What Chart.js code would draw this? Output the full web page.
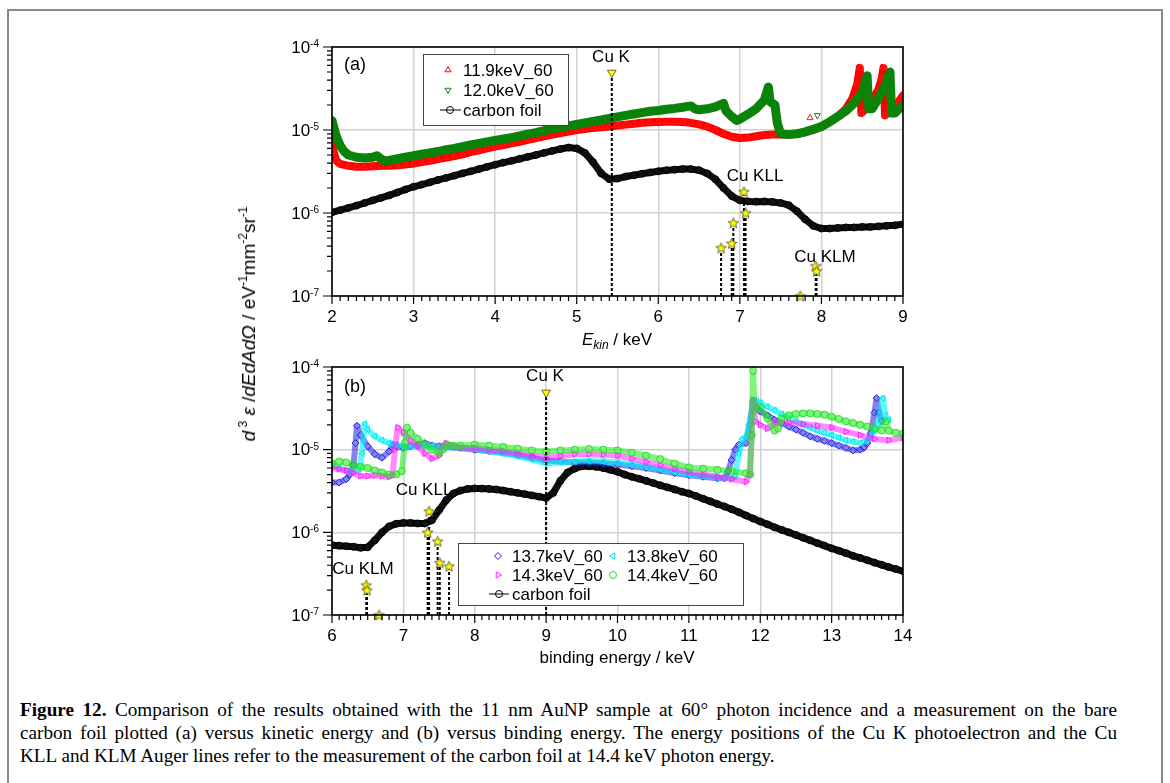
<!DOCTYPE html>
<html>
<head>
<meta charset="utf-8">
<title>AuNP and carbon foil spectra</title>
<script src="https://cdn.jsdelivr.net/npm/chart.js@4.4.1/dist/chart.umd.min.js"></script>
<style>
  html, body { margin: 0; padding: 0; background: #fff; }
  #page { position: relative; width: 1170px; height: 783px; overflow: hidden;
          font-family: "Liberation Sans", Arial, sans-serif; color: #000; }
  #frame { position: absolute; left: 7px; top: 9px; width: 1152px; height: 800px;
           border: 2px solid #8a8a8a; border-bottom: none; }
  canvas { position: absolute; left: 0; }
  #kin { top: 0; }
  #bind { top: 340px; }
  .xtitle { position: absolute; font-size: 17px; white-space: nowrap; transform: translate(-50%, -50%); }
  .xtitle sub { font-size: 12px; vertical-align: -4px; }
  #ytitle { position: absolute; left: 249px; top: 324px; font-size: 19px; white-space: nowrap;
            transform: translate(-50%, -50%) rotate(-90deg); }
  #ytitle sup { font-size: 12px; vertical-align: 8px; line-height: 0; }
  .cap { position: absolute; left: 20px; width: 1097px; font-family: "Liberation Serif", "Times New Roman", serif;
         font-size: 19.2px; line-height: 23px; white-space: nowrap; }
  .just { text-align: justify; text-align-last: justify; }
</style>
</head>
<body>
<div id="page">
  <div id="frame"></div>
  <canvas id="kin" width="1170" height="340"></canvas>
  <canvas id="bind" width="1170" height="343"></canvas>
  <div class="xtitle" style="left:617px; top:341px;"><i>E</i><sub><i>kin</i></sub> / keV</div>
  <div class="xtitle" style="left:617px; top:658px;">binding energy / keV</div>
  <div id="ytitle"><i>d</i><sup> 3</sup> <i>ε</i> /<i>dEdAdΩ</i> / eV<sup>-1</sup>mm<sup>-2</sup>sr<sup>-1</sup></div>
  <div class="cap just" style="top:698px;"><b>Figure 12.</b> Comparison of the results obtained with the 11 nm AuNP sample at 60° photon incidence and a measurement on the bare</div>
  <div class="cap just" style="top:721px;">carbon foil plotted (a) versus kinetic energy and (b) versus binding energy. The energy positions of the Cu K photoelectron and the Cu</div>
  <div class="cap" style="top:744px;">KLL and KLM Auger lines refer to the measurement of the carbon foil at 14.4 keV photon energy.</div>
</div>
<script>
// (a) kinetic energy spectra, [E_kin in keV, yield]
const kin119 = [[2.0,7.5e-6],[2.02,5.5e-6],[2.05,4.3e-6],[2.1,3.9e-6],[2.2,3.7e-6],[2.3,3.6e-6],[2.4,3.6e-6],[2.5,3.65e-6],[2.6,3.7e-6],[2.7,3.7e-6],[2.8,3.75e-6],[2.9,3.85e-6],[3.0,3.95e-6],[3.1,4.1e-6],[3.2,4.25e-6],[3.3,4.45e-6],[3.4,4.65e-6],[3.5,4.85e-6],[3.6,5.1e-6],[3.7,5.4e-6],[3.8,5.7e-6],[3.9,6.0e-6],[4.0,6.3e-6],[4.1,6.6e-6],[4.2,6.9e-6],[4.3,7.2e-6],[4.4,7.6e-6],[4.5,8.0e-6],[4.6,8.4e-6],[4.7,8.8e-6],[4.8,9.2e-6],[4.9,9.6e-6],[5.0,1.0e-5],[5.1,1.03e-5],[5.2,1.06e-5],[5.3,1.08e-5],[5.4,1.1e-5],[5.5,1.13e-5],[5.6,1.16e-5],[5.7,1.19e-5],[5.8,1.22e-5],[5.9,1.24e-5],[6.0,1.25e-5],[6.1,1.26e-5],[6.2,1.26e-5],[6.3,1.25e-5],[6.4,1.22e-5],[6.5,1.17e-5],[6.6,1.1e-5],[6.7,1.0e-5],[6.8,9.0e-6],[6.9,8.3e-6],[7.0,8.0e-6],[7.1,8.1e-6],[7.2,8.4e-6],[7.3,8.7e-6],[7.4,8.8e-6],[7.5,8.8e-6],[7.6,8.8e-6],[7.7,9.0e-6],[7.8,9.4e-6],[7.9,1.0e-5],[8.0,1.1e-5],[8.1,1.25e-5],[8.2,1.45e-5],[8.3,1.8e-5],[8.38,2.4e-5],[8.44,3.6e-5],[8.47,5.6e-5],[8.49,1.6e-5],[8.55,1.8e-5],[8.6,2.1e-5],[8.65,2.5e-5],[8.7,3.1e-5],[8.74,4.2e-5],[8.76,5.6e-5],[8.78,1.5e-5],[8.85,1.7e-5],[8.9,1.9e-5],[8.95,2.2e-5],[9.0,2.6e-5]];
const kin120 = [[2.0,1.3e-5],[2.02,1.1e-5],[2.05,8.5e-6],[2.1,6.5e-6],[2.15,5.5e-6],[2.2,5.0e-6],[2.3,4.7e-6],[2.4,4.6e-6],[2.5,4.7e-6],[2.55,4.9e-6],[2.6,4.5e-6],[2.65,4.2e-6],[2.7,4.3e-6],[2.8,4.5e-6],[2.9,4.7e-6],[3.0,4.9e-6],[3.1,5.1e-6],[3.2,5.3e-6],[3.3,5.5e-6],[3.4,5.8e-6],[3.5,6.0e-6],[3.6,6.3e-6],[3.7,6.6e-6],[3.8,6.9e-6],[3.9,7.2e-6],[4.0,7.5e-6],[4.1,7.8e-6],[4.2,8.1e-6],[4.3,8.5e-6],[4.4,8.9e-6],[4.5,9.3e-6],[4.6,9.8e-6],[4.7,1.03e-5],[4.8,1.08e-5],[4.9,1.12e-5],[5.0,1.17e-5],[5.1,1.22e-5],[5.2,1.27e-5],[5.3,1.32e-5],[5.4,1.38e-5],[5.5,1.44e-5],[5.6,1.5e-5],[5.7,1.56e-5],[5.8,1.62e-5],[5.9,1.68e-5],[6.0,1.72e-5],[6.1,1.78e-5],[6.2,1.82e-5],[6.3,1.88e-5],[6.4,1.95e-5],[6.45,1.8e-5],[6.5,1.75e-5],[6.6,1.8e-5],[6.7,1.9e-5],[6.8,2.1e-5],[6.83,1.7e-5],[6.9,1.45e-5],[6.96,1.3e-5],[7.0,1.35e-5],[7.1,1.55e-5],[7.2,1.8e-5],[7.3,2.3e-5],[7.35,3.3e-5],[7.37,2.2e-5],[7.43,2.0e-5],[7.46,1.2e-5],[7.5,9.0e-6],[7.6,8.8e-6],[7.7,9.0e-6],[7.8,9.5e-6],[7.9,1.02e-5],[8.0,1.1e-5],[8.1,1.25e-5],[8.2,1.45e-5],[8.3,1.7e-5],[8.4,2.1e-5],[8.5,2.8e-5],[8.56,4.5e-5],[8.58,1.8e-5],[8.62,1.8e-5],[8.7,2.4e-5],[8.78,3.4e-5],[8.84,5.0e-5],[8.86,1.6e-5],[8.9,1.6e-5],[9.0,2.0e-5]];
const kinStray119 = [[7.86,1.4e-5]];
const kinStray120 = [[7.95,1.5e-5]];
const kinFoil = [[2.0,1.02e-6],[2.1,1.08e-6],[2.2,1.15e-6],[2.3,1.23e-6],[2.4,1.32e-6],[2.5,1.42e-6],[2.6,1.52e-6],[2.7,1.63e-6],[2.8,1.77e-6],[2.9,1.92e-6],[3.0,2.07e-6],[3.1,2.2e-6],[3.2,2.34e-6],[3.3,2.5e-6],[3.4,2.65e-6],[3.5,2.82e-6],[3.6,3.0e-6],[3.7,3.18e-6],[3.8,3.38e-6],[3.9,3.6e-6],[4.0,3.82e-6],[4.1,4.05e-6],[4.2,4.25e-6],[4.3,4.5e-6],[4.4,4.75e-6],[4.5,5.0e-6],[4.6,5.3e-6],[4.7,5.6e-6],[4.8,5.9e-6],[4.9,6.15e-6],[5.0,6.0e-6],[5.1,5.3e-6],[5.2,4.1e-6],[5.3,3.0e-6],[5.4,2.55e-6],[5.5,2.6e-6],[5.6,2.75e-6],[5.7,2.85e-6],[5.8,2.97e-6],[5.9,3.08e-6],[6.0,3.18e-6],[6.1,3.27e-6],[6.2,3.33e-6],[6.3,3.38e-6],[6.4,3.38e-6],[6.5,3.28e-6],[6.6,3.0e-6],[6.7,2.55e-6],[6.8,2.0e-6],[6.9,1.6e-6],[7.0,1.42e-6],[7.1,1.38e-6],[7.2,1.37e-6],[7.3,1.38e-6],[7.4,1.36e-6],[7.5,1.32e-6],[7.6,1.24e-6],[7.7,1.05e-6],[7.8,8.4e-7],[7.9,7.0e-7],[8.0,6.5e-7],[8.1,6.5e-7],[8.2,6.6e-7],[8.3,6.7e-7],[8.4,6.7e-7],[8.5,6.8e-7],[8.6,6.8e-7],[8.7,6.9e-7],[8.8,7.0e-7],[8.9,7.1e-7],[9.0,7.3e-7]];

// Cu K photoelectron and Auger line positions for (a)
const kinCuK = [[5.43, 4.9e-5]];
const kinAugerE = [6.77, 6.90, 6.92, 7.05, 7.07, 7.93, 7.94];
const kinAugerTop = [3.8e-7, 4.3e-7, 7.6e-7, 1.8e-6, 1.0e-6, 2.3e-7, 2.0e-7];
const kinAugerFloor = [7.74];

// (b) binding energy spectra, [E_bind in keV, yield]
const bind137 = [[6.0,4.0e-6],[6.1,4.0e-6],[6.2,4.4e-6],[6.25,5.0e-6],[6.3,6.5e-6],[6.33,1.2e-5],[6.35,1.95e-5],[6.4,1.5e-5],[6.5,1.1e-5],[6.6,8.8e-6],[6.7,8.0e-6],[6.8,9.5e-6],[6.85,1.15e-5],[6.9,1.1e-5],[7.0,1.05e-5],[7.1,1.1e-5],[7.2,1.15e-5],[7.3,1.2e-5],[7.4,1.12e-5],[7.5,1.1e-5],[7.6,1.08e-5],[7.8,1.05e-5],[8.0,1.0e-5],[8.2,9.6e-6],[8.4,9.2e-6],[8.6,8.6e-6],[8.8,8.0e-6],[9.0,7.4e-6],[9.2,7.2e-6],[9.4,7.0e-6],[9.6,7.0e-6],[9.8,6.8e-6],[10.0,6.6e-6],[10.2,6.3e-6],[10.4,6.0e-6],[10.6,5.6e-6],[10.8,5.2e-6],[11.0,4.9e-6],[11.2,4.7e-6],[11.4,4.5e-6],[11.5,4.5e-6],[11.55,5.5e-6],[11.6,7.5e-6],[11.65,1.0e-5],[11.7,1.15e-5],[11.8,1.2e-5],[11.85,2.0e-5],[11.9,3.8e-5],[11.95,3.2e-5],[12.0,2.9e-5],[12.1,2.6e-5],[12.2,2.3e-5],[12.3,2.1e-5],[12.4,1.9e-5],[12.5,1.75e-5],[12.6,1.6e-5],[12.7,1.45e-5],[12.8,1.35e-5],[12.9,1.28e-5],[13.0,1.2e-5],[13.1,1.12e-5],[13.2,1.05e-5],[13.3,9.8e-6],[13.4,1.0e-5],[13.45,1.05e-5],[13.5,1.2e-5],[13.55,1.6e-5],[13.6,2.8e-5],[13.63,4.2e-5],[13.66,2.8e-5],[13.7,2.2e-5]];
const bind138 = [[6.0,6.5e-6],[6.1,6.0e-6],[6.2,5.6e-6],[6.3,5.4e-6],[6.38,5.8e-6],[6.42,9.0e-6],[6.46,2.05e-5],[6.5,1.75e-5],[6.6,1.45e-5],[6.7,1.3e-5],[6.8,1.2e-5],[6.9,1.15e-5],[7.0,1.1e-5],[7.2,1.1e-5],[7.4,1.1e-5],[7.6,1.08e-5],[7.8,1.05e-5],[8.0,1.02e-5],[8.2,9.6e-6],[8.4,9.0e-6],[8.6,8.3e-6],[8.8,7.6e-6],[9.0,6.8e-6],[9.2,7.0e-6],[9.4,7.2e-6],[9.6,7.3e-6],[9.8,7.2e-6],[10.0,7.0e-6],[10.2,6.6e-6],[10.4,6.2e-6],[10.6,5.8e-6],[10.8,5.4e-6],[11.0,5.0e-6],[11.2,4.8e-6],[11.4,4.6e-6],[11.6,4.5e-6],[11.65,4.8e-6],[11.7,9.0e-6],[11.75,1.35e-5],[11.8,1.4e-5],[11.85,2.0e-5],[11.9,4.0e-5],[11.95,3.9e-5],[12.0,3.7e-5],[12.1,3.3e-5],[12.2,3.0e-5],[12.3,2.7e-5],[12.4,2.4e-5],[12.5,2.2e-5],[12.6,2.0e-5],[12.7,1.85e-5],[12.8,1.7e-5],[12.9,1.6e-5],[13.0,1.5e-5],[13.1,1.4e-5],[13.2,1.3e-5],[13.3,1.25e-5],[13.4,1.2e-5],[13.5,1.3e-5],[13.55,1.4e-5],[13.65,2.0e-5],[13.72,4.2e-5],[13.75,2.6e-5],[13.8,2.3e-5]];
const bind143 = [[6.0,6.0e-6],[6.1,5.8e-6],[6.2,5.6e-6],[6.3,5.2e-6],[6.4,4.8e-6],[6.5,4.8e-6],[6.6,4.9e-6],[6.7,4.8e-6],[6.8,4.7e-6],[6.85,4.9e-6],[6.88,1.0e-5],[6.92,1.85e-5],[7.0,1.6e-5],[7.1,1.3e-5],[7.2,1.1e-5],[7.3,9.0e-6],[7.4,7.8e-6],[7.5,8.5e-6],[7.55,1.1e-5],[7.6,1.2e-5],[7.7,1.1e-5],[7.8,1.05e-5],[8.0,1.05e-5],[8.2,1.0e-5],[8.4,9.6e-6],[8.6,9.0e-6],[8.8,8.5e-6],[9.0,8.0e-6],[9.2,8.4e-6],[9.4,8.8e-6],[9.6,8.8e-6],[9.8,8.7e-6],[10.0,8.5e-6],[10.2,7.8e-6],[10.4,7.1e-6],[10.6,6.5e-6],[10.8,5.9e-6],[11.0,5.4e-6],[11.2,5.0e-6],[11.4,4.7e-6],[11.6,4.4e-6],[11.8,4.1e-6],[11.85,5.0e-6],[11.88,1.5e-5],[11.9,4.0e-5],[11.93,2.2e-5],[12.0,2.0e-5],[12.1,1.8e-5],[12.2,2.1e-5],[12.4,2.1e-5],[12.6,2.05e-5],[12.8,1.95e-5],[13.0,1.85e-5],[13.2,1.65e-5],[13.4,1.5e-5],[13.6,1.35e-5],[13.8,1.3e-5],[14.0,1.4e-5]];
const bind144 = [[6.0,6.8e-6],[6.1,7.2e-6],[6.2,7.0e-6],[6.3,6.5e-6],[6.4,6.2e-6],[6.5,6.0e-6],[6.6,5.6e-6],[6.7,5.3e-6],[6.8,5.0e-6],[6.9,5.0e-6],[6.98,5.5e-6],[7.02,1.2e-5],[7.05,1.85e-5],[7.1,1.6e-5],[7.2,1.35e-5],[7.3,1.15e-5],[7.4,1.0e-5],[7.5,9.2e-6],[7.55,1.0e-5],[7.6,1.15e-5],[7.7,1.12e-5],[7.8,1.12e-5],[8.0,1.15e-5],[8.2,1.12e-5],[8.4,1.08e-5],[8.6,1.03e-5],[8.8,9.8e-6],[9.0,9.5e-6],[9.2,9.8e-6],[9.4,1.0e-5],[9.6,1.02e-5],[9.8,1.0e-5],[10.0,9.8e-6],[10.2,9.2e-6],[10.4,8.5e-6],[10.6,7.7e-6],[10.8,6.8e-6],[11.0,6.1e-6],[11.2,5.9e-6],[11.4,5.7e-6],[11.6,5.5e-6],[11.8,5.2e-6],[11.86,5.0e-6],[11.88,1.5e-5],[11.9,9.0e-5],[11.92,3.0e-5],[12.0,3.3e-5],[12.1,2.4e-5],[12.2,1.7e-5],[12.25,1.8e-5],[12.3,2.4e-5],[12.4,2.6e-5],[12.5,2.7e-5],[12.6,2.75e-5],[12.7,2.75e-5],[12.8,2.7e-5],[12.9,2.65e-5],[13.0,2.5e-5],[13.1,2.35e-5],[13.2,2.2e-5],[13.3,2.1e-5],[13.4,2.0e-5],[13.5,1.9e-5],[13.6,1.8e-5],[13.7,1.7e-5],[13.76,2.2e-5],[13.8,1.7e-5],[13.9,1.6e-5],[14.0,1.55e-5]];
const bindFoil = [[6.0,7.0e-7],[6.1,6.9e-7],[6.2,6.8e-7],[6.3,6.7e-7],[6.4,6.5e-7],[6.5,6.6e-7],[6.6,8.0e-7],[6.7,1.0e-6],[6.8,1.18e-6],[6.9,1.27e-6],[7.0,1.3e-6],[7.1,1.3e-6],[7.2,1.28e-6],[7.3,1.28e-6],[7.4,1.4e-6],[7.5,1.85e-6],[7.6,2.45e-6],[7.7,2.95e-6],[7.8,3.2e-6],[7.9,3.35e-6],[8.0,3.4e-6],[8.1,3.38e-6],[8.2,3.35e-6],[8.3,3.3e-6],[8.4,3.2e-6],[8.5,3.1e-6],[8.6,3.0e-6],[8.7,2.9e-6],[8.8,2.8e-6],[8.9,2.7e-6],[9.0,2.6e-6],[9.1,3.0e-6],[9.2,4.2e-6],[9.3,5.3e-6],[9.4,5.9e-6],[9.5,6.3e-6],[9.6,6.3e-6],[9.7,6.2e-6],[9.8,6.0e-6],[9.9,5.7e-6],[10.0,5.4e-6],[10.1,5.0e-6],[10.2,4.7e-6],[10.3,4.45e-6],[10.4,4.2e-6],[10.5,3.95e-6],[10.6,3.7e-6],[10.7,3.5e-6],[10.8,3.3e-6],[10.9,3.1e-6],[11.0,2.95e-6],[11.1,2.75e-6],[11.2,2.55e-6],[11.3,2.37e-6],[11.4,2.2e-6],[11.5,2.05e-6],[11.6,1.9e-6],[11.7,1.75e-6],[11.8,1.6e-6],[11.9,1.47e-6],[12.0,1.35e-6],[12.1,1.25e-6],[12.2,1.15e-6],[12.3,1.07e-6],[12.4,1.0e-6],[12.5,9.3e-7],[12.6,8.6e-7],[12.7,8.0e-7],[12.8,7.4e-7],[12.9,6.9e-7],[13.0,6.4e-7],[13.1,6.0e-7],[13.2,5.6e-7],[13.3,5.2e-7],[13.4,4.9e-7],[13.5,4.6e-7],[13.6,4.3e-7],[13.7,4.05e-7],[13.8,3.8e-7],[13.9,3.6e-7],[14.0,3.4e-7]];

// Cu K photoelectron and Auger line positions for (b)
const bindCuK = [[9.0, 4.9e-5]];
const bindAugerE = [6.48, 6.49, 7.34, 7.36, 7.48, 7.51, 7.64];
const bindAugerTop = [2.3e-7, 2.0e-7, 1.0e-6, 1.8e-6, 7.8e-7, 4.3e-7, 3.9e-7];
const bindAugerFloor = [6.66];

const Y_MIN = 1e-7, Y_MAX = 1e-4;
const FONT = '"Liberation Sans", Arial, sans-serif';
const isDecade = v => Math.abs(Math.log10(v) - Math.round(Math.log10(v))) < 1e-6;
const toXY = pts => pts.map(p => ({ x: p[0], y: p[1] }));

// yellow five-point star used for the Auger line markers
function makeStar() {
  const c = document.createElement('canvas');
  c.width = 13; c.height = 13;
  const g = c.getContext('2d');
  g.beginPath();
  for (let i = 0; i < 10; i++) {
    const r = i % 2 ? 2.4 : 5.6;
    const a = -Math.PI / 2 + i * Math.PI / 5;
    g.lineTo(6.5 + r * Math.cos(a), 7 + r * Math.sin(a));
  }
  g.closePath();
  g.fillStyle = '#ffff00';
  g.fill();
  g.strokeStyle = '#5a5a30';
  g.lineWidth = 0.9;
  g.stroke();
  return c;
}
const STAR = makeStar();

function series(points, opt) {
  return {
    data: toXY(points),
    showLine: opt.line !== false,
    borderColor: opt.band || opt.color,
    borderWidth: opt.width || 0,
    borderJoinStyle: 'round',
    borderCapStyle: 'round',
    pointStyle: opt.style,
    pointRotation: opt.rotation || 0,
    pointRadius: 3.5,
    pointBorderColor: opt.color,
    pointBackgroundColor: 'rgba(0,0,0,0)',
    pointBorderWidth: 1,
    clip: 0,
    order: opt.order
  };
}

// dotted drop lines from the axis up to each line marker
function lineMarks(cuK, augerE, augerTop, augerFloor) {
  const sets = [];
  const drop = (x, top) => sets.push({
    data: [{ x, y: Y_MIN }, { x, y: top }],
    showLine: true, borderColor: '#000', borderWidth: 2, borderDash: [3, 2],
    pointRadius: 0, clip: false, order: -1
  });
  cuK.forEach(p => drop(p[0], p[1]));
  augerE.forEach((x, i) => drop(x, augerTop[i]));
  sets.push({
    data: augerE.map((x, i) => ({ x, y: augerTop[i] })).concat(augerFloor.map(x => ({ x, y: Y_MIN }))),
    showLine: false, pointStyle: STAR, pointRadius: 6, clip: false, order: -2
  });
  sets.push({
    data: toXY(cuK),
    showLine: false, pointStyle: 'triangle', pointRotation: 180, pointRadius: 5,
    pointBackgroundColor: '#ffff00', pointBorderColor: '#6a6a20', pointBorderWidth: 1,
    clip: false, order: -2
  });
  return sets;
}

function drawMarker(ctx, shape, x, y, r, color) {
  ctx.save();
  ctx.translate(x, y);
  ctx.strokeStyle = color;
  ctx.lineWidth = 1;
  ctx.beginPath();
  if (shape === 'circle') {
    ctx.arc(0, 0, r, 0, Math.PI * 2);
  } else if (shape === 'diamond') {
    ctx.moveTo(0, -r); ctx.lineTo(r, 0); ctx.lineTo(0, r); ctx.lineTo(-r, 0); ctx.closePath();
  } else {
    ctx.rotate({ up: 0, down: Math.PI, left: -Math.PI / 2, right: Math.PI / 2 }[shape]);
    ctx.moveTo(0, -r); ctx.lineTo(r * 0.866, r * 0.5); ctx.lineTo(-r * 0.866, r * 0.5); ctx.closePath();
  }
  ctx.stroke();
  ctx.restore();
}

// axis box, tick marks, tick labels, panel notes and legend
function decorations(legend, notes) {
  return {
    id: 'decorations',
    afterDatasetsDraw(chart) {
      const { ctx, chartArea: a, scales: { x, y } } = chart;
      ctx.save();
      ctx.strokeStyle = '#000';
      ctx.lineWidth = 1.2;
      ctx.beginPath();
      const steps = Math.round((x.max - x.min) * 10);
      for (let i = 0; i <= steps; i++) {
        const px = x.getPixelForValue(x.min + i / 10);
        ctx.moveTo(px, a.bottom);
        ctx.lineTo(px, a.bottom + (i % 10 === 0 ? 8 : 5));
      }
      for (let e = -7; e <= -4; e++) {
        for (let m = 1; m <= (e === -4 ? 1 : 9); m++) {
          const py = y.getPixelForValue(m * Math.pow(10, e));
          ctx.moveTo(a.left, py);
          ctx.lineTo(a.left - (m === 1 ? 9 : 5), py);
        }
      }
      ctx.stroke();
      ctx.lineWidth = 1.6;
      ctx.strokeRect(a.left, a.top, a.right - a.left, a.bottom - a.top);

      ctx.fillStyle = '#000';
      ctx.font = '17px ' + FONT;
      ctx.textAlign = 'center';
      ctx.textBaseline = 'middle';
      for (let v = x.min; v <= x.max; v++) ctx.fillText(String(v), x.getPixelForValue(v), a.bottom + 21);
      ctx.textAlign = 'right';
      for (let e = -7; e <= -4; e++) {
        const py = y.getPixelForValue(Math.pow(10, e));
        const ex = String(e);
        ctx.font = '10px ' + FONT;
        ctx.textBaseline = 'alphabetic';
        const ew = ctx.measureText(ex).width;
        ctx.fillText(ex, a.left - 13, py);
        ctx.font = '17px ' + FONT;
        ctx.textBaseline = 'middle';
        ctx.fillText('10', a.left - 13 - ew, py + 1);
      }

      ctx.textAlign = 'center';
      notes.forEach(n => {
        ctx.font = n.size + 'px ' + FONT;
        ctx.fillText(n.text, n.x, n.y);
      });

      const [bx, by, bw, bh] = legend.box;
      ctx.fillStyle = '#fff';
      ctx.fillRect(bx, by, bw, bh);
      ctx.strokeStyle = '#444';
      ctx.lineWidth = 1;
      ctx.strokeRect(bx + 0.5, by + 0.5, bw, bh);
      ctx.fillStyle = '#000';
      ctx.font = '17px ' + FONT;
      ctx.textAlign = 'left';
      legend.rows.forEach(r => {
        if (r.line) {
          ctx.strokeStyle = '#000';
          ctx.lineWidth = 1;
          ctx.beginPath();
          ctx.moveTo(r.line[0], r.y);
          ctx.lineTo(r.line[1], r.y);
          ctx.stroke();
        }
        drawMarker(ctx, r.shape, r.mx, r.y, 3.5, r.color);
        ctx.fillText(r.text, r.tx, r.y + 1);
      });
      ctx.restore();
    }
  };
}

function baseOptions(xmin, xmax, padding) {
  return {
    responsive: false,
    animation: false,
    devicePixelRatio: 1,
    layout: { padding },
    plugins: { legend: { display: false }, tooltip: { enabled: false } },
    events: [],
    scales: {
      x: {
        type: 'linear', min: xmin, max: xmax,
        ticks: { display: false, stepSize: 1 },
        grid: { color: '#d2d2d2', lineWidth: 1.5, drawTicks: false },
        border: { display: false },
        afterFit: s => { s.height = 0; }
      },
      y: {
        type: 'logarithmic', min: Y_MIN, max: Y_MAX,
        ticks: { display: false },
        grid: {
          color: c => (c.tick && isDecade(c.tick.value)) ? '#d2d2d2' : 'rgba(0,0,0,0)',
          lineWidth: 1.5, drawTicks: false
        },
        border: { display: false },
        afterFit: s => { s.width = 0; }
      }
    }
  };
}

new Chart(document.getElementById('kin'), {
  type: 'scatter',
  data: {
    datasets: [
      series(kin120, { color: '#0a800a', band: '#0a840a', width: 9, style: 'triangle', rotation: 180, order: 1 }),
      series(kinStray120, { color: '#0a800a', line: false, style: 'triangle', rotation: 180, order: 1 }),
      series(kin119, { color: '#ff1a1a', band: '#ff0000', width: 8, style: 'triangle', order: 2 }),
      series(kinStray119, { color: '#ff1a1a', line: false, style: 'triangle', order: 2 }),
      series(kinFoil, { color: '#000', band: '#111', width: 7, style: 'circle', order: 3 }),
      ...lineMarks(kinCuK, kinAugerE, kinAugerTop, kinAugerFloor)
    ]
  },
  options: baseOptions(2, 9, { left: 332, right: 267, top: 47, bottom: 44 }),
  plugins: [decorations(
    {
      box: [423, 54, 145, 71],
      rows: [
        { shape: 'up', color: '#ff0000', mx: 448, y: 70, tx: 463, text: '11.9keV_60' },
        { shape: 'down', color: '#0a800a', mx: 448, y: 90, tx: 463, text: '12.0keV_60' },
        { shape: 'circle', color: '#000', mx: 450, y: 110, tx: 463, text: 'carbon foil', line: [440, 461] }
      ]
    },
    [
      { text: '(a)', x: 355, y: 65, size: 18 },
      { text: 'Cu K', x: 611, y: 57, size: 17 },
      { text: 'Cu KLL', x: 755, y: 176, size: 17 },
      { text: 'Cu KLM', x: 825, y: 257, size: 17 }
    ]
  )]
});

new Chart(document.getElementById('bind'), {
  type: 'scatter',
  data: {
    datasets: [
      series(bind144, { color: '#22e022', band: 'rgba(40,235,40,0.6)', width: 6, style: 'circle', order: 1 }),
      series(bind143, { color: '#ff22ff', band: 'rgba(255,40,255,0.55)', width: 6, style: 'triangle', rotation: 90, order: 2 }),
      series(bind138, { color: '#00e8f0', band: 'rgba(0,240,250,0.6)', width: 6, style: 'triangle', rotation: 270, order: 3 }),
      series(bind137, { color: '#2020e8', band: 'rgba(30,30,230,0.55)', width: 6, style: 'rectRot', order: 4 }),
      series(bindFoil, { color: '#000', band: '#111', width: 7, style: 'circle', order: 5 }),
      ...lineMarks(bindCuK, bindAugerE, bindAugerTop, bindAugerFloor)
    ]
  },
  options: baseOptions(6, 14, { left: 332, right: 267, top: 27, bottom: 68 }),
  plugins: [decorations(
    {
      box: [458, 203, 285, 62],
      rows: [
        { shape: 'diamond', color: '#2020e8', mx: 498, y: 216, tx: 512, text: '13.7keV_60' },
        { shape: 'left', color: '#00d8e8', mx: 613, y: 216, tx: 627, text: '13.8keV_60' },
        { shape: 'right', color: '#ff22ff', mx: 498, y: 235, tx: 512, text: '14.3keV_60' },
        { shape: 'circle', color: '#22e022', mx: 613, y: 235, tx: 627, text: '14.4keV_60' },
        { shape: 'circle', color: '#000', mx: 499, y: 254, tx: 512, text: 'carbon foil', line: [489, 509] }
      ]
    },
    [
      { text: '(b)', x: 355, y: 47, size: 18 },
      { text: 'Cu K', x: 545, y: 36, size: 17 },
      { text: 'Cu KLL', x: 424, y: 150, size: 17 },
      { text: 'Cu KLM', x: 363, y: 229, size: 17 }
    ]
  )]
});
</script>
</body>
</html>
